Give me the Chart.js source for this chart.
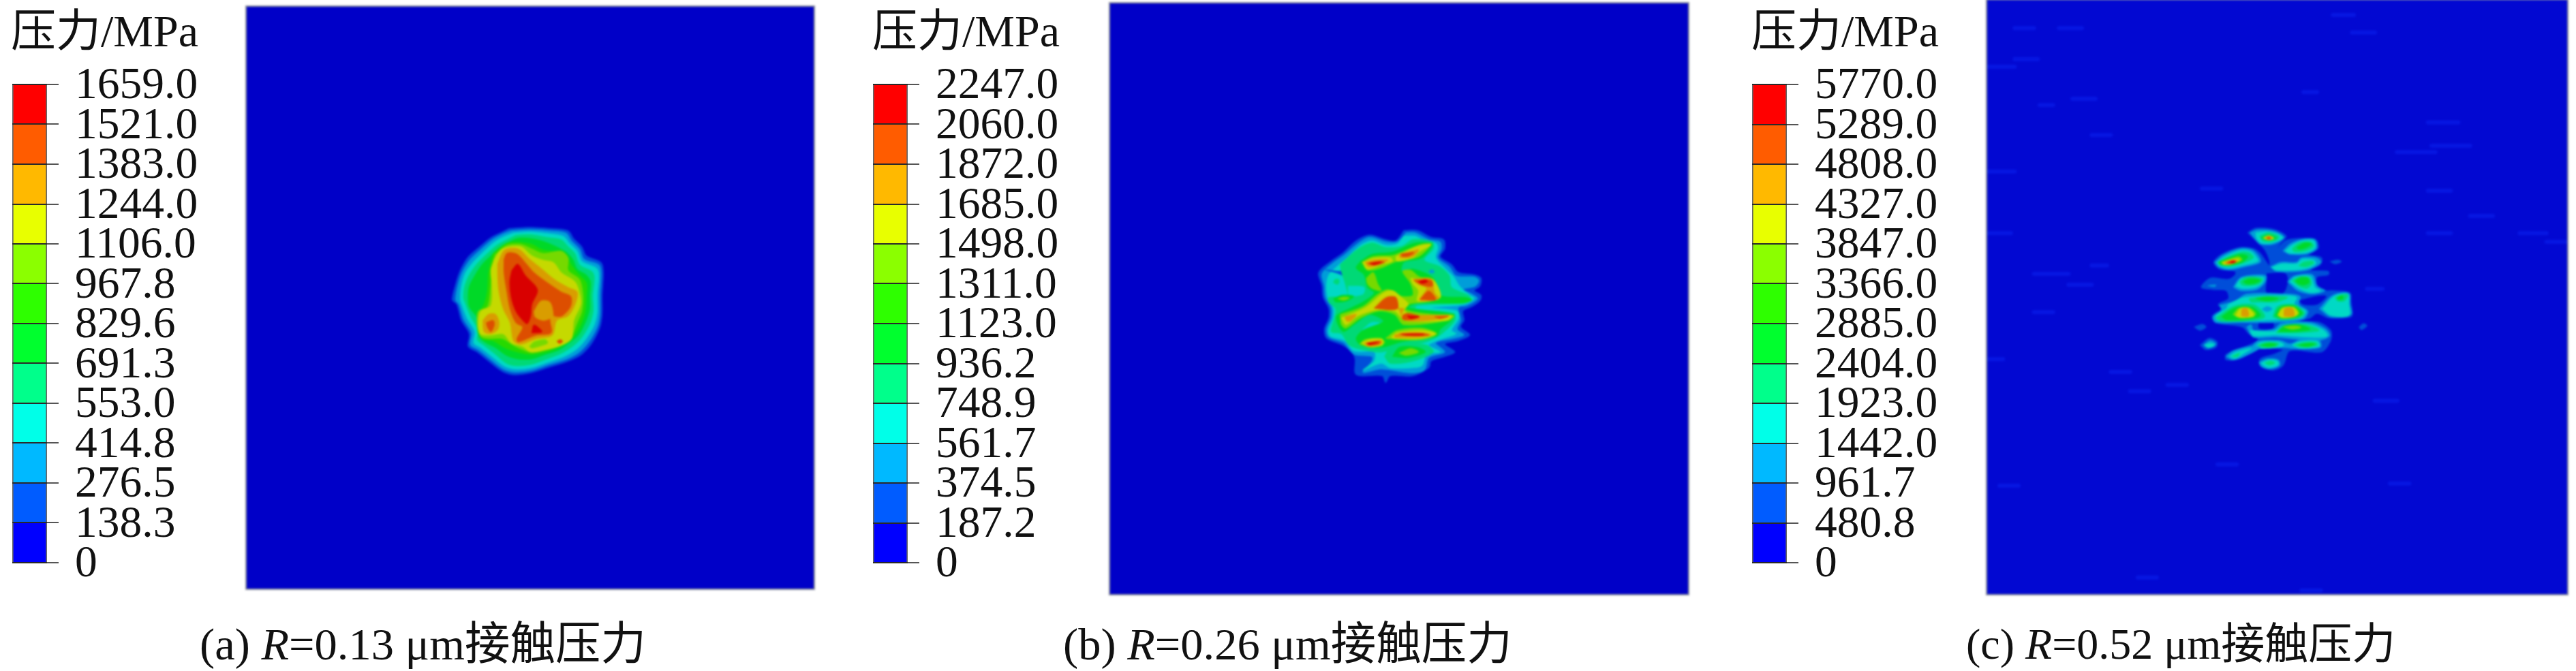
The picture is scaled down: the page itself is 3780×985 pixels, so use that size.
<!DOCTYPE html>
<html lang="zh">

<head>
  <meta charset="UTF-8" />
  <title>接触压力</title>
  <style>
    html, body { margin: 0; background: #fff; }
    body { position: relative; width: 3780px; height: 985px; overflow: hidden; }
    canvas { position: absolute; }
    .field { box-sizing: content-box; outline: 2px solid #8a8f9c; filter: blur(1.5px); }
    .txt {
      position: absolute; white-space: nowrap; color: #111; line-height: 1;
      font-family: "Liberation Serif", "Noto Sans CJK SC", serif;
    }
    .head { font-size: 66px; top: 13px; }
    .cap { font-size: 66.5px; top: 913px; }
  </style>
</head>

<body>
  <div class="txt head" style="left:16px">压力/MPa</div>
  <div class="txt head" style="left:1280px">压力/MPa</div>
  <div class="txt head" style="left:2570px">压力/MPa</div>
  <div class="txt cap" style="left:293px">(a) <i>R</i>=0.13 μm接触压力</div>
  <div class="txt cap" style="left:1560px">(b) <i>R</i>=0.26 μm接触压力</div>
  <div class="txt cap" style="left:2885px;font-size:64px;top:914px">(c) <i>R</i>=0.52 μm接触压力</div>

  <canvas id="barA"></canvas>
  <canvas id="barB"></canvas>
  <canvas id="barC"></canvas>
  <canvas id="fieldA" class="field"></canvas>
  <canvas id="fieldB" class="field"></canvas>
  <canvas id="fieldC" class="field"></canvas>

  <script src="https://cdn.jsdelivr.net/npm/chart.js"></script>
  <script>
    // legend tick labels, top to bottom
    const levelsA = ["1659.0", "1521.0", "1383.0", "1244.0", "1106.0", "967.8", "829.6", "691.3", "553.0", "414.8", "276.5", "138.3", "0"];
    const levelsB = ["2247.0", "2060.0", "1872.0", "1685.0", "1498.0", "1311.0", "1123.0", "936.2", "748.9", "561.7", "374.5", "187.2", "0"];
    const levelsC = ["5770.0", "5289.0", "4808.0", "4327.0", "3847.0", "3366.0", "2885.0", "2404.0", "1923.0", "1442.0", "961.7", "480.8", "0"];

    // legend band colours, band 0 = lowest
    const spectrum = ["#0000ff", "#005cff", "#00b9ff", "#00ffe8", "#00ff8b", "#00ff2e", "#2eff00", "#8bff00", "#e8ff00", "#ffb900", "#ff5c00", "#ff0000"];
    // same bands as they look on the shaded surface
    const shaded = ["#0000c8", "#004ed9", "#009dd9", "#00d9c5", "#00d976", "#00d927", "#27d900", "#76d900", "#c5d900", "#d99d00", "#dd4e00", "#d90000"];

    // contour outlines: [band, [x, y, x, y, ...]], painted in order
    const contoursA = [
      [1, [380,105,470,100,560,105,640,115,665,150,700,185,720,225,785,255,795,300,790,400,790,480,780,540,745,610,700,660,640,690,560,715,480,740,400,750,350,735,290,690,240,650,200,625,205,570,170,510,150,440,130,420,145,350,165,290,200,230,245,190,300,145,350,120]],
      [2, [390,115,470,110,555,115,630,125,655,160,690,195,710,240,775,265,785,300,780,400,780,480,770,535,735,600,690,650,635,680,555,705,480,730,405,738,355,725,295,680,245,640,210,618,215,565,180,505,160,440,145,420,155,355,175,295,210,240,255,198,305,155,355,128]],
      [3, [400,125,470,120,555,128,620,140,645,170,680,205,700,250,765,280,775,310,768,400,768,475,755,530,720,590,680,635,625,668,550,695,480,718,410,725,360,712,305,670,255,630,225,610,230,560,195,500,172,440,165,415,170,360,188,300,225,250,265,210,315,165,360,140]],
      [4, [410,135,475,132,550,145,610,155,640,185,670,215,690,265,745,295,755,320,748,400,750,470,735,525,700,585,665,620,610,655,545,680,480,703,415,710,370,700,315,655,270,620,240,595,245,555,212,495,190,440,180,410,185,360,205,310,240,260,280,220,325,180,370,155]],
      [5, [360,175,420,148,480,150,540,165,625,205,660,240,680,285,720,310,738,340,735,400,735,460,715,520,685,575,650,605,600,640,540,660,480,680,420,680,370,665,320,630,280,610,250,585,240,550,240,500,205,450,200,400,205,360,225,320,260,265,300,225,330,195]],
      [6, [310,215,370,170,420,165,480,175,530,200,625,215,650,260,680,300,720,345,720,400,715,470,695,530,665,580,620,615,555,645,480,660,420,650,360,630,310,600,260,590,245,540,245,480,270,440,285,380,290,300]],
      [7, [320,220,370,180,430,175,480,195,530,215,610,205,640,235,640,290,690,330,705,400,700,470,680,520,660,570,640,600,570,630,480,650,430,635,400,620,350,590,290,590,255,580,240,530,245,470,285,450,300,360,305,280]],
      [8, [315,240,350,195,430,185,480,225,530,245,575,255,610,300,670,340,690,390,695,440,665,510,655,590,610,620,540,640,475,650,440,625,390,610,355,570,295,575,255,570,245,530,255,470,300,445,305,350,300,290]],
      [7, [470,625,490,605,540,595,550,610,520,622,480,632]],
      [9, [330,260,360,200,420,195,470,240,520,280,580,330,640,365,680,385,670,440,640,490,590,510,570,575,500,590,430,615,400,600,385,520,355,460,335,380,330,310]],
      [9, [265,510,290,483,320,483,335,515,330,550,300,568,270,560]],
      [10, [590,602,605,595,616,602,603,612]],
      [10, [358,240,372,213,415,218,455,260,490,300,550,345,610,385,652,405,650,450,610,492,565,490,560,510,565,565,500,575,420,605,415,590,440,540,410,520,385,460,370,380,358,300]],
      [10, [280,520,310,510,315,530,300,560,285,540]],
      [9, [490,470,520,425,560,430,575,490,565,500,530,510,495,495]],
      [11, [392,290,418,262,450,310,505,375,480,440,475,490,460,525,440,510,410,470,390,410,383,340]],
      [11, [480,565,490,530,525,560]],
    ];

    const contoursB = [
      [1, [480,55,540,55,600,85,655,95,660,135,640,170,690,205,720,240,790,250,820,265,815,300,790,320,820,340,815,365,780,390,740,410,745,450,730,480,770,515,720,540,660,555,705,590,660,610,600,630,590,660,520,695,420,695,400,725,385,695,270,690,265,620,250,590,210,560,140,530,130,490,150,440,150,400,125,350,120,300,105,240,160,190,210,155,270,100,330,75,400,95,445,100]],
      [2, [490,65,530,65,590,95,640,105,645,135,630,175,680,215,710,255,790,260,810,275,795,300,740,315,780,335,805,355,760,385,720,395,730,450,715,490,745,515,700,530,620,550,660,590,590,615,570,670,510,682,380,665,300,680,340,630,340,610,260,600,215,550,150,525,140,490,160,440,160,395,135,350,130,300,120,245,165,200,215,165,280,110,330,85,400,105,450,105]],
      [3, [480,80,530,80,570,100,620,110,630,130,620,175,665,225,700,260,725,300,770,340,790,355,745,380,600,395,715,410,720,445,690,495,710,510,640,535,590,560,640,590,580,600,560,650,510,660,420,660,380,640,300,670,350,630,350,590,260,585,220,540,155,520,150,490,170,440,170,395,145,350,140,290,150,250,190,210,230,175,290,120,340,100,400,120,450,115]],
      [1, [135,228,190,235,235,235,240,285,205,250]],
      [4, [200,205,280,135,340,110,400,130,470,125,520,95,605,105,610,135,570,185,640,215,680,255,690,305,770,345,760,370,540,385,530,400,700,420,705,450,670,490,625,525,560,550,470,560,385,590,300,580,240,560,205,510,160,500,175,440,180,400,150,370,150,350,230,345,225,300,205,235]],
      [3, [300,490,340,460,390,470,385,500,340,530,300,520]],
      [3, [360,240,410,225,450,245,430,275,380,270]],
      [3, [235,300,305,305,300,335,240,340]],
      [2, [395,238,410,232,420,242,405,248]],
      [2, [590,235,605,228,615,238,600,243]],
      [2, [735,282,770,270,790,275,760,285]],
      [3, [160,280,175,262,205,265,195,298,170,300]],
      [4, [170,285,178,270,195,272,190,292]],
      [4, [395,610,420,570,480,555,580,560,610,590,520,630,420,640]],
      [5, [430,610,460,570,540,570,575,590,500,615]],
      [7, [460,595,510,575,545,590,490,605]],
      [5, [290,190,340,160,430,150,530,110,605,115,560,175,480,195,470,235,520,225,610,265,640,340,750,350,780,360,740,375,540,375,500,395,700,425,690,450,640,490,625,520,470,545,380,570,290,560,270,530,300,495,390,455,330,425,260,470,215,500,190,470,185,430,250,395,300,370,350,330,320,305,305,250,270,220]],
      [5, [170,355,210,340,260,345,230,365,180,370]],
      [7, [190,355,215,348,240,352,215,362]],
      [7, [295,195,345,170,430,165,470,150,560,115,600,115,545,170,450,190,380,220,320,230]],
      [7, [315,265,345,240,365,290,380,320,340,310,320,290]],
      [7, [200,425,300,390,360,340,410,315,470,345,520,340,510,290,475,235,510,230,550,260,610,270,640,350,570,370,500,380,490,405,610,425,700,430,680,450,480,470,440,425,370,410,290,440,225,485,205,470]],
      [7, [400,530,450,495,560,485,625,510,560,535,450,535]],
      [7, [285,555,310,535,380,530,395,550,340,570]],
      [8, [300,195,345,178,420,175,430,190,380,205,320,225]],
      [8, [445,170,540,125,600,118,545,150,520,175,450,190]],
      [8, [205,440,310,395,390,330,430,320,470,350,500,380,480,405,520,430,690,430,670,450,500,455,470,440,440,410,360,405,280,430,225,470]],
      [8, [510,265,550,270,610,275,640,350,540,365,545,320,520,290]],
      [8, [425,525,450,505,560,495,620,510,550,530,440,530]],
      [8, [295,550,330,535,385,535,385,560,320,565]],
      [9, [310,195,350,185,410,185,370,205,325,215]],
      [9, [460,160,520,145,545,140,520,170,465,175]],
      [9, [220,435,270,425,250,450,230,455]],
      [9, [350,395,400,350,445,350,455,395,480,400,470,430,520,430,680,430,640,445,480,450,455,400]],
      [9, [520,270,600,270,615,330,635,355,550,362,580,310,540,290]],
      [9, [440,515,480,505,560,505,600,515,540,525,440,525]],
      [9, [305,552,380,540,380,555,320,565]],
      [10, [320,200,370,190,395,195,350,208]],
      [10, [470,158,525,152,500,168,470,168]],
      [10, [350,398,405,350,445,350,450,400]],
      [10, [478,425,500,420,550,435,510,448,475,445]],
      [10, [615,435,675,433,640,442]],
      [10, [525,275,600,275,605,300,560,295]],
      [10, [552,358,590,322,620,360]],
      [10, [460,512,550,508,590,515,540,520]],
      [10, [315,550,375,543,370,555,325,560]],
      [11, [330,200,380,195,350,205]],
      [11, [495,432,545,435,510,442]],
      [11, [545,280,575,272,585,280,560,288]],
      [11, [470,512,570,512,490,516]],
      [11, [320,552,365,547,330,557]],
    ];

    const contoursC = [
      [1, [415,95,450,75,530,80,585,110,560,140,545,165,580,130,640,120,715,125,725,165,680,190,740,205,735,235,690,260,770,265,770,280,720,290,720,325,760,350,790,350,865,360,870,400,875,460,850,470,770,470,720,450,690,470,640,485,730,490,780,525,780,570,740,620,600,615,570,680,525,700,470,680,470,650,530,630,570,610,470,605,380,650,320,655,320,630,420,590,460,565,420,540,390,510,270,490,260,460,300,430,285,410,330,385,320,350,260,345,210,335,250,295,330,300,360,280,360,265,290,255,265,225,300,190,380,160,440,165,470,185,510,240,510,215,490,170,460,140,430,110]],
      [0, [500,275,580,275,590,310,570,360,500,360,500,300]],
      [0, [640,395,720,375,760,375,720,410,660,410]],
      [0, [465,490,525,490,525,515,465,515]],
      [1, [180,510,215,498,232,510,205,525]],
      [1, [905,510,925,495,940,505,915,522]],
      [1, [778,222,810,215,828,222,800,232]],
      [1, [205,590,245,560,280,575,275,600,230,610]],
      [2, [220,590,250,570,275,585,240,603]],
      [3, [225,590,250,582,270,590,245,600]],
      [2, [240,328,275,325,270,332]],
      // top lobe
      [2, [425,95,460,82,530,88,575,115,530,145,470,145,445,120]],
      [3, [450,95,500,90,545,100,570,118,520,140,475,140,455,120]],
      [4, [468,110,505,95,550,110,545,125,510,135,480,130]],
      [5, [475,118,505,105,540,118,505,128]],
      [8, [483,118,508,108,530,120,505,126]],
      [9, [492,118,508,112,522,119,505,124]],
      [10, [500,118,508,114,515,120,505,122]],
      // upper right
      [2, [570,175,600,145,650,125,710,125,718,165,680,188,600,190]],
      [3, [580,175,610,150,655,130,705,130,712,160,675,182,600,185]],
      [4, [610,165,640,140,690,135,705,155,665,175,620,178]],
      [5, [630,160,665,140,695,145,670,162,640,168]],
      // upper left, hottest spot
      [2, [270,225,305,195,380,165,435,170,465,200,470,225,400,245,330,258,285,245]],
      [3, [280,225,315,200,385,172,430,178,455,205,460,220,395,238,330,250,290,240]],
      [4, [285,225,330,200,390,180,425,185,440,205,395,228,335,243,295,238]],
      [5, [285,225,330,207,385,190,415,200,390,225,335,238,295,235]],
      [7, [298,225,340,210,375,200,390,215,340,233,305,235]],
      [8, [305,225,345,213,380,212,345,232,312,234]],
      [9, [315,225,350,215,372,220,345,230,318,232]],
      [10, [325,225,350,218,365,222,345,229,330,230]],
      [11, [337,225,352,220,360,224,345,228]],
      // thin band right of it
      [2, [515,245,560,225,630,225,650,205,715,205,738,225,690,255,640,265,540,265]],
      [3, [520,248,565,232,630,232,655,212,705,215,715,230,680,250,630,258,540,258]],
      [4, [640,240,660,225,700,220,705,230,670,245]],
      // second row
      [2, [352,335,380,295,430,282,495,285,490,315,455,345,385,350]],
      [3, [362,330,385,298,430,290,485,292,480,315,450,335,390,340]],
      [4, [380,310,405,292,450,290,480,300,465,320,420,328,390,325]],
      [5, [395,310,420,298,450,298,470,305,445,318,410,320]],
      [2, [590,310,620,285,700,280,720,330,755,350,700,365,635,350]],
      [3, [600,310,625,290,690,288,710,335,735,352,690,358,640,340]],
      [4, [610,305,640,290,685,292,695,320,675,340,640,330]],
      [5, [625,305,650,292,680,295,685,315,660,325,635,318]],
      // middle group with the two amber spots
      [2, [290,415,360,395,410,365,590,365,645,375,640,410,680,440,660,475,530,490,390,490,275,490,262,465,300,435]],
      [3, [330,410,400,380,590,372,630,380,620,410,670,440,650,470,530,478,360,485,280,480,275,460,320,430]],
      [4, [420,385,500,375,590,380,540,400,470,400,430,400]],
      [5, [450,385,500,378,550,385,500,395]],
      [4, [275,470,340,425,390,410,450,415,490,465,440,480,300,485]],
      [5, [300,465,350,430,390,420,440,425,470,460,420,475,320,478]],
      [7, [350,455,375,428,420,425,450,450,440,465,380,470]],
      [8, [362,460,382,430,415,428,440,450,438,462,385,468]],
      [9, [388,462,390,432,412,430,418,462]],
      [4, [525,465,545,420,590,410,630,415,665,450,640,470,560,478]],
      [5, [535,460,555,425,590,415,625,420,655,450,625,468,565,472]],
      [7, [545,458,565,425,620,423,640,450,620,465,565,470]],
      [8, [550,458,570,428,615,425,635,450,618,463,570,468]],
      [9, [575,462,578,430,612,428,618,462]],
      [2, [478,432,500,420,522,430,500,442]],
      // right wing
      [2, [730,430,790,370,860,362,865,410,870,455,780,465]],
      [3, [745,430,795,375,855,365,860,410,860,460,780,458]],
      [4, [800,380,830,368,855,370,840,395,810,395]],
      [5, [810,380,830,372,835,385,815,390]],
      // lower band
      [2, [410,510,430,500,440,525,530,520,560,495,690,490,760,520,775,550,720,570,540,555,440,555]],
      [3, [425,525,530,530,570,505,680,498,750,525,765,550,700,555,540,545,440,548]],
      [4, [540,535,570,505,670,500,730,525,640,535]],
      [5, [550,530,580,505,640,500,690,520,620,530]],
      [7, [575,510,620,505,650,512,610,520]],
      [2, [430,600,460,572,560,570,600,585,640,570,730,570,735,600,620,605,570,600,490,605]],
      [3, [450,595,470,578,550,575,575,590,540,600,470,605]],
      [3, [610,590,640,575,720,572,730,595,650,605]],
      [4, [460,590,500,578,550,582,540,597,480,600]],
      [4, [620,590,660,578,715,578,720,592,660,600]],
      [5, [475,590,510,582,540,588,510,596]],
      [5, [640,590,680,582,710,585,680,596]],
      [2, [320,640,350,615,430,595,470,600,420,630,350,655]],
      [3, [335,640,360,622,430,605,400,625,360,648]],
      [4, [345,640,380,625,370,640]],
      [2, [465,665,500,650,550,655,555,680,510,695,475,685]],
      [3, [475,668,510,655,545,660,548,678,510,688,485,680]],
      [4, [490,668,515,660,535,668,510,678]],
    ];

    // faint horizontal bands in the background of (c): [x1, x2, y]
    const streaksC = [
      [-611,-526,-806],[-416,-315,-806],[874,975,-787],[790,882,-864],[-611,-509,-670],[-729,-611,-636],
      [660,720,-524],[-357,-255,-495],[-501,-442,-467],[1208,1342,-391],[1224,1394,-288],[1072,1241,-260],
      [-272,-188,-335],[-729,-611,-175],[213,298,-100],[1208,1309,-90],[1394,1494,21],[-729,-628,97],
      [1612,1730,97],[1730,1814,135],[-526,-374,276],[-272,-205,239],[1208,1309,97],[-374,-272,324],
      [940,1008,342],[-729,-662,652],[974,1074,835],[-188,-103,708],[-103,-19,793],[62,147,765],
      [-678,-594,1209],[282,367,1115],[1041,1126,1199],[-69,15,1613],[652,737,1670],[-526,-442,445],
    ];

    const fontFamily = '"Liberation Serif", "Noto Sans CJK SC", serif';

    function place(id, left, top, width, height) {
      const c = document.getElementById(id);
      c.width = width;
      c.height = height;
      c.style.left = left + "px";
      c.style.top = top + "px";
      c.style.width = width + "px";
      c.style.height = height + "px";
      return c;
    }

    function legendBar(id, left, labels) {
      const values = labels.map(Number);
      const ctx = place(id, left, 0, 321, 985);
      const bands = spectrum.map((color, i) => ({
        data: [[values[12 - i], values[11 - i]]],
        backgroundColor: color,
        borderColor: "#666",
        borderWidth: { left: 2, right: 2, top: 0, bottom: 0 },
        borderSkipped: false,
        barPercentage: 1,
        categoryPercentage: 1,
      }));
      new Chart(ctx, {
        type: "bar",
        data: { labels: [""], datasets: bands },
        options: {
          responsive: false,
          animation: false,
          layout: { padding: { top: 124, bottom: 159 } },
          plugins: { legend: { display: false }, tooltip: { enabled: false } },
          scales: {
            x: { display: false, stacked: true },
            y: {
              position: "right",
              min: 0,
              max: values[0],
              afterFit: (s) => { s.width = 270; },
              afterBuildTicks: (s) => { s.ticks = values.map((v) => ({ value: v })); },
              border: { display: false },
              grid: { color: "#2a2a2a", lineWidth: 2, tickLength: 17, z: 1, tickColor: "#555" },
              ticks: {
                autoSkip: false,
                padding: 24,
                labelOffset: 3,
                color: "#111",
                font: { family: fontFamily, size: 65.5 },
                callback: (v, i) => labels[i],
              },
            },
          },
        },
      });
    }

    function contourField(id, box, xRange, yRange, background, contours, streaks) {
      const ctx = place(id, box[0], box[1], box[2], box[3]);
      ctx.style.background = background;
      const sets = [];
      (streaks || []).forEach((s) => {
        sets.push({
          data: [{ x: s[0], y: s[2] }, { x: s[1], y: s[2] }],
          showLine: true, pointRadius: 0, borderWidth: 6, borderColor: "#0616e2", borderCapStyle: "round",
        });
      });
      contours.forEach(([band, flat]) => {
        const pts = [];
        for (let i = 0; i < flat.length; i += 2) pts.push({ x: flat[i], y: flat[i + 1] });
        pts.push(pts[0]);
        sets.push({
          data: pts,
          showLine: true, pointRadius: 0, fill: "shape", tension: 0.3,
          backgroundColor: band === 0 ? background : shaded[band],
          borderColor: band === 0 ? background : shaded[band],
          borderWidth: 1,
        });
      });
      sets.forEach((d, i) => { d.order = sets.length - i; }); // paint in list order
      new Chart(ctx, {
        type: "scatter",
        data: { datasets: sets },
        options: {
          responsive: false,
          animation: false,
          plugins: { legend: { display: false }, tooltip: { enabled: false } },
          scales: {
            x: { display: false, min: xRange[0], max: xRange[1] },
            y: { display: false, reverse: true, min: yRange[0], max: yRange[1] },
          },
        },
      });
    }

    legendBar("barA", 18, levelsA);
    legendBar("barB", 1281, levelsB);
    legendBar("barC", 2571, levelsC);

    contourField("fieldA", [362, 10, 832, 854], [-775, 1721], [-872, 1692], "#0000c8", contoursA);
    contourField("fieldB", [1629, 5, 848, 867], [-813, 1731], [-945, 1656], "#0000c8", contoursB);
    contourField("fieldC", [2916, 0, 851, 872], [-732, 1821], [-930, 1686], "#0208d2", contoursC, streaksC);
  </script>
</body>

</html>
